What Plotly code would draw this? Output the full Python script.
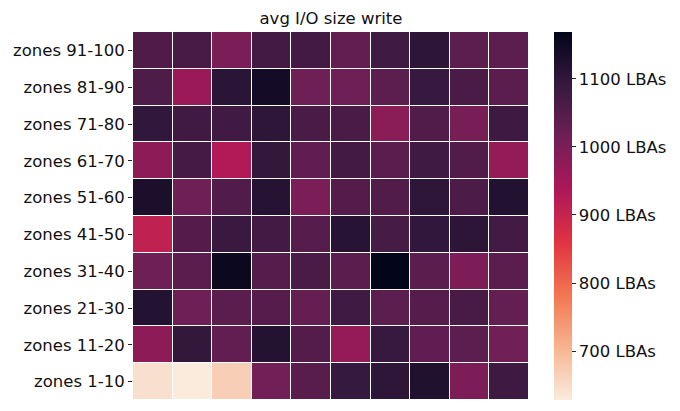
"""Heatmap of average write I/O size per zone group, seaborn 'rocket_r' look."""

import plotly.graph_objects as go

# ---------------------------------------------------------------------------
# Data (rows listed bottom -> top, as plotly draws them)
# ---------------------------------------------------------------------------

zone_labels = [
    "zones 1-10", "zones 11-20", "zones 21-30", "zones 31-40", "zones 41-50",
    "zones 51-60", "zones 61-70", "zones 71-80", "zones 81-90", "zones 91-100",
]
columns = list(range(10))

avg_write_lbas = [
    [643, 628, 667, 1010, 1046, 1090, 1104, 1124, 999, 1080],    # 1-10
    [979, 1095, 1032, 1119, 1051, 967, 1089, 1034, 1040, 1014],  # 11-20
    [1119, 1017, 1043, 1048, 1030, 1079, 1040, 1048, 1067, 1030],  # 21-30
    [1017, 1043, 1157, 1048, 1063, 1043, 1169, 1043, 999, 1043],   # 31-40
    [910, 1050, 1087, 1073, 1048, 1113, 1070, 1098, 1106, 1075],   # 41-50
    [1130, 1017, 1054, 1115, 1001, 1050, 1054, 1104, 1062, 1121],  # 51-60
    [979, 1071, 930, 1095, 1034, 1075, 1042, 1079, 1054, 967],     # 61-70
    [1098, 1076, 1076, 1104, 1063, 1064, 981, 1054, 1006, 1080],   # 71-80
    [1059, 960, 1109, 1143, 1017, 1017, 1040, 1089, 1066, 1043],   # 81-90
    [1058, 1068, 1001, 1073, 1073, 1032, 1079, 1106, 1040, 1040],  # 91-100
]

cbar_vals = [700, 800, 900, 1000, 1100]
cbar_text = [f"{v} LBAs" for v in cbar_vals]

# seaborn "rocket", reversed (light = low, dark = high)
rocket = ["#03051a", "#35193e", "#701f57", "#ad1759",
          "#e13342", "#f37651", "#f6b48f", "#faebdd"]
rocket_r = [[i / (len(rocket) - 1), c] for i, c in enumerate(reversed(rocket))]

FONT = "DejaVu Sans"

# the page body adds an 8px margin, so the figure is drawn 8px smaller
fig = go.Figure(
    go.Heatmap(
        z=avg_write_lbas,
        x=columns,
        y=zone_labels,
        colorscale=rocket_r,
        zmin=628,
        zmax=1169,
        xgap=1,
        ygap=1,
        colorbar=dict(
            x=1.063,
            xanchor="left",
            y=0.5,
            len=1.0,
            thickness=18,
            ypad=0,
            xpad=0,
            outlinewidth=0,
            tickvals=cbar_vals,
            ticktext=cbar_text,
            ticks="outside",
            ticklen=4,
            tickcolor="#222",
            tickfont=dict(family=FONT, size=16.5, color="#111"),
        ),
    )
)

fig.update_layout(
    width=672,
    height=403,
    margin=dict(l=125, r=151, t=24, b=11, autoexpand=False),
    paper_bgcolor="white",
    plot_bgcolor="white",
    font=dict(family=FONT, size=16.5, color="#111"),
    title=dict(
        text="avg I/O size write",
        x=(125 + 521) / 2 / 672,
        xanchor="center",
        y=1 - 10 / 403,
        yanchor="middle",
        font=dict(family=FONT, size=16.5, color="#111"),
    ),
)

fig.update_xaxes(showticklabels=False, ticks="", showgrid=False, zeroline=False)
fig.update_yaxes(
    ticks="outside",
    ticklen=4,
    tickcolor="#222",
    showgrid=False,
    zeroline=False,
    automargin=False,
    tickfont=dict(family=FONT, size=16.5, color="#111"),
)

fig.write_html("out.html")
